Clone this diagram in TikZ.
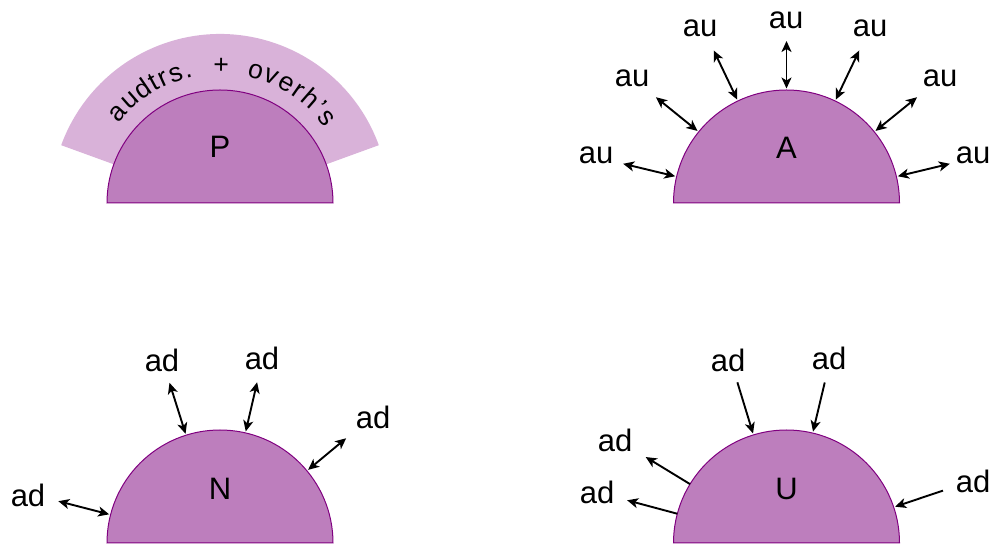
\documentclass[tikz,border=0pt]{standalone}
\usepackage{fontspec}
\setmainfont{Liberation Sans}
\usetikzlibrary{arrows.meta}
\definecolor{discfill}{HTML}{BD7EBD}
\definecolor{discline}{HTML}{800080}
\definecolor{ringfill}{HTML}{D9B2D9}
\begin{document}
\begin{tikzpicture}[x=1pt,y=1pt,
  disc/.style={fill=discfill,draw=discline,line width=1pt},
  ringsec/.style={fill=ringfill},
  lbl/.style={font=\fontsize{31}{36}\selectfont,inner sep=0pt},
  arctxt/.style={font=\fontsize{26.5}{30}\selectfont,inner sep=0pt,anchor=base},
  tip/.style={Stealth[length=11pt,width=10pt,inset=3pt]},
  conn/.style={line width=1.9pt,-{Stealth[length=11pt,width=10pt,inset=3pt]}},
  dconn/.style={line width=1.9pt,{Stealth[length=11pt,width=10pt,inset=3pt]}-{Stealth[length=11pt,width=10pt,inset=3pt]}},
]
\useasboundingbox (0,0) rectangle (995,545);

% ---------- P ----------
\begin{scope}[shift={(220,342)}]
  \fill[ringsec] (20:113) -- (20:169) arc (20:160:169) -- (160:113) arc (160:20:113) -- cycle;
  \draw[disc] (-113,0) arc (180:0:113) -- cycle;
  \node[lbl] (P) at (0,56) {P};
  \foreach \ch/\ang [count=\i] in {a/138.5,u/131.3,d/124.3,t/118.7,r/114.4,s/108.9,./103.6,+/89.5,o/74.8,v/67.9,e/61,r/55,h/49,’/43.7,s/38.7}
    \node[arctxt,rotate=\ang-90] (c\i) at (\ang:129) {\ch};
\end{scope}

% ---------- A ----------
\begin{scope}[shift={(786.5,342)}]
  \draw[disc] (-113,0) arc (180:0:113) -- cycle;
  \node[lbl] (A) at (0,55) {A};
  \foreach \ang/\ro [count=\i] in {166.5/168,141/168,115.5/169,90/162,64.5/169,39/168,13.5/168} {
    \coordinate (ai\i) at (\ang:114.5);
    \coordinate (ao\i) at (\ang:\ro);
  }
\end{scope}
\node[lbl] (la1) at (596,390) {au};
\node[lbl] (la2) at (632,467) {au};
\node[lbl] (la3) at (700,517) {au};
\node[lbl] (la4) at (786,525) {au};
\node[lbl] (la5) at (870,517) {au};
\node[lbl] (la6) at (940,467) {au};
\node[lbl] (la7) at (973,390) {au};
\foreach \i in {1,...,7} \draw[dconn] (ao\i) -- (ai\i);

% ---------- N ----------
\begin{scope}[shift={(220,2)}]
  \draw[disc] (-113,0) arc (180:0:113) -- cycle;
  \node[lbl] (N) at (0,54) {N};
  \foreach \ang/\ro [count=\i] in {165.5/167,107.5/168,77/165,39.7/164} {
    \coordinate (ni\i) at (\ang:114.5);
    \coordinate (no\i) at (\ang:\ro);
  }
\end{scope}
\node[lbl] (ln1) at (28,50) {ad};
\node[lbl] (ln2) at (162,185) {ad};
\node[lbl] (ln3) at (262,187) {ad};
\node[lbl] (ln4) at (373,128) {ad};
\foreach \i in {1,...,4} \draw[dconn] (no\i) -- (ni\i);

% ---------- U ----------
\begin{scope}[shift={(786.5,2)}]
  \draw[disc] (-113,0) arc (180:0:113) -- cycle;
  \node[lbl] (U) at (0,54) {U};
  \coordinate (ui1) at (148.6:113);  \coordinate (uo1) at (148.6:165);
  \coordinate (ui2) at (165:113);    \coordinate (uo2) at (165:165);
  \coordinate (ui3) at (107:114.5);  \coordinate (uo3) at (107:168);
  \coordinate (ui4) at (76.6:114.5); \coordinate (uo4) at (76.6:165);
  \coordinate (ui5) at (18.5:114.5); \coordinate (uo5) at (18.5:165);
\end{scope}
\node[lbl] (lu1) at (615,105) {ad};
\node[lbl] (lu2) at (597,53) {ad};
\node[lbl] (lu3) at (728,185) {ad};
\node[lbl] (lu4) at (829,187) {ad};
\node[lbl] (lu5) at (973,64) {ad};
\draw[conn] (ui1) -- (uo1);
\draw[conn] (ui2) -- (uo2);
\draw[conn] (uo3) -- (ui3);
\draw[conn] (uo4) -- (ui4);
\draw[conn] (uo5) -- (ui5);
\end{tikzpicture}
\end{document}
